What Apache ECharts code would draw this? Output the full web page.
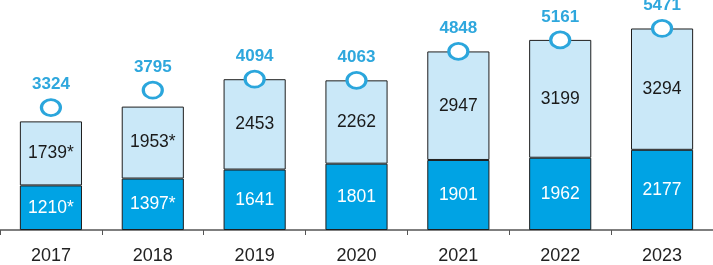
<!DOCTYPE html>
<html><head><meta charset="utf-8">
<script src="https://cdn.jsdelivr.net/npm/echarts@6/dist/echarts.min.js"></script>
<style>html,body{margin:0;padding:0;background:#fff}#c{width:713px;height:265px}</style>
</head><body><div id="c"></div>
<script>
const years = ['2017','2018','2019','2020','2021','2022','2023'];
const lowerValues = [1210, 1397, 1641, 1801, 1901, 1962, 2177];
const lowerLabels = ['1210*','1397*','1641','1801','1901','1962','2177'];
const upperValues = [1739, 1953, 2453, 2262, 2947, 3199, 3294];
const upperLabels = ['1739*','1953*','2453','2262','2947','3199','3294'];
const totals = [3324, 3795, 4094, 4063, 4848, 5161, 5471];

const font = 'Liberation Sans, Arial, sans-serif';
const chart = echarts.init(document.getElementById('c'), null, {renderer:'canvas'});
chart.setOption({
  animation: false,
  grid: {left: 0, right: 0, top: 9, bottom: 33, containLabel: false},
  xAxis: {
    type: 'category', data: years,
    axisLine: {lineStyle: {color: '#555', width: 1.5}},
    axisTick: {show: true, length: 5, lineStyle: {color: '#555'}},
    axisLabel: {color: '#222', fontSize: 18, fontFamily: font, margin: 17}
  },
  yAxis: {type: 'value', min: 0, max: 6000, show: false, splitLine: {show: false}},
  series: [
    {type: 'bar', stack: 's', barWidth: '61%', data: lowerValues,
     itemStyle: {color: '#00a3e4', borderColor: '#1e1e1e', borderWidth: 1},
     label: {show: true, position: 'inside', color: '#fff', fontSize: 17.5, fontFamily: font,
       formatter: p => lowerLabels[p.dataIndex]}},
    {type: 'bar', stack: 's', barWidth: '61%', data: upperValues,
     itemStyle: {color: '#cae8f8', borderColor: '#1e1e1e', borderWidth: 1},
     label: {show: true, position: 'inside', color: '#1a1a1a', fontSize: 17.5, fontFamily: font,
       formatter: p => upperLabels[p.dataIndex]}},
    {type: 'scatter', data: totals, symbol: 'circle', symbolSize: [19, 16], z: 5,
     itemStyle: {color: '#fff', borderColor: '#2ba6dc', borderWidth: 3, opacity: 1},
     label: {show: true, position: 'top', distance: 5, color: '#2ea7dd', fontSize: 17,
       fontWeight: 'bold', fontFamily: font}}
  ]
});
</script></body></html>
